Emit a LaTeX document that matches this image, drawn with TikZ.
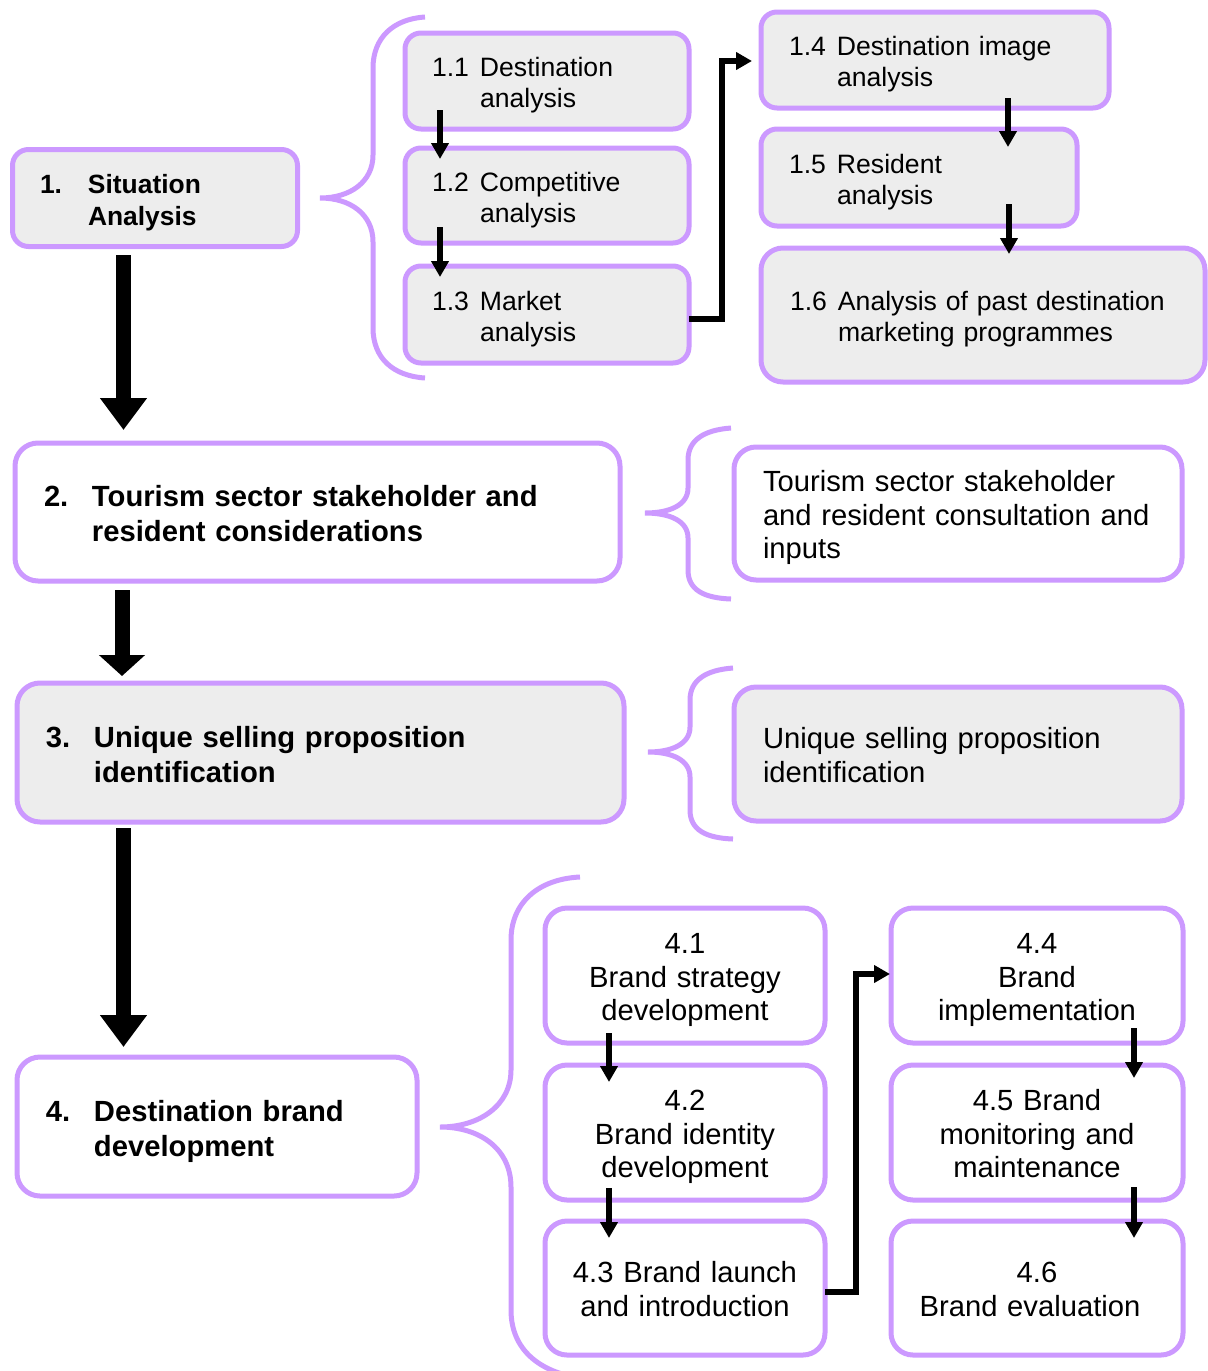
\documentclass[tikz,border=0pt]{standalone}
\usepackage{fontspec}
\setmainfont{Liberation Sans}
\usetikzlibrary{arrows.meta,calc}
\definecolor{lav}{RGB}{204,153,255}
\definecolor{boxgray}{RGB}{237,237,237}

% font sizes
\newcommand\fsSmall{\fontsize{13.3}{15.5}\selectfont}
\newcommand\fsLarge{\fontsize{14.6}{16.8}\selectfont}
\newcommand\fsHeadS{\fontsize{13.2}{16}\selectfont\bfseries}
\newcommand\fsHeadL{\fontsize{14.6}{17.5}\selectfont\bfseries}
% text blocks, lowered slightly so the lines sit optically centred
\newcommand\lowered[1]{\raisebox{-2.5pt}[\height][\depth]{#1}}
\newcommand\mkitem[3]{\lowered{\begin{tabular}{@{}p{24pt}@{}l@{}}#1 & #2\\ & #3\end{tabular}}}
\newcommand\txtL[1]{\lowered{\begin{tabular}{@{}l@{}}#1\end{tabular}}}
\newcommand\txtC[1]{\lowered{\begin{tabular}{@{}c@{}}#1\end{tabular}}}

\tikzset{
  bx/.style={rectangle, draw=lav, line width=2.5pt, outer sep=0pt, inner ysep=0pt, align=left},
  grayfill/.style={fill=boxgray},
  whitefill/.style={fill=white},
  bigarrow/.style={line width=7.5pt, -{Triangle[width=22.5pt,length=#1]}},
  smallarrow/.style={line width=2.75pt, -{Triangle[width=8.5pt,length=8pt]}},
  bracket/.style={draw=lav, line width=2.5pt},
}

\begin{document}
\begin{tikzpicture}[x=0.5pt,y=-0.5pt]
\fill[white] (0,0) rectangle (1208,1371);
\useasboundingbox (0,0) rectangle (1208,1371);

% ---- stage 1 ----
\node[bx, grayfill, minimum width=142.5pt, minimum height=48.5pt, inner xsep=13.75pt, text width=115pt, rounded corners=8pt, font=\fsHeadS] (n1) at (155,198) {\mkitem{1.}{Situation}{Analysis}};

\node[bx, grayfill, minimum width=142pt, minimum height=48pt, inner xsep=13.5pt, text width=115pt, rounded corners=8pt, font=\fsSmall] (n11) at (547,81) {\mkitem{1.1}{Destination}{analysis}};
\node[bx, grayfill, minimum width=142pt, minimum height=47.5pt, inner xsep=13.5pt, text width=115pt, rounded corners=8pt, font=\fsSmall] (n12) at (547,195.5) {\mkitem{1.2}{Competitive}{analysis}};
\node[bx, grayfill, minimum width=142pt, minimum height=48.5pt, inner xsep=13.5pt, text width=115pt, rounded corners=8pt, font=\fsSmall] (n13) at (547,314.5) {\mkitem{1.3}{Market}{analysis}};

\node[bx, grayfill, minimum width=174pt, minimum height=48pt, inner xsep=14pt, text width=146pt, rounded corners=8pt, font=\fsSmall] (n14) at (935,60) {\mkitem{1.4}{Destination image}{analysis}};
\node[bx, grayfill, minimum width=158pt, minimum height=48.5pt, inner xsep=14pt, text width=130pt, rounded corners=8pt, font=\fsSmall] (n15) at (919,177.5) {\mkitem{1.5}{Resident}{analysis}};
\node[bx, grayfill, minimum width=222pt, minimum height=67pt, inner xsep=14.5pt, text width=193pt, rounded corners=11pt, font=\fsSmall] (n16) at (983,315) {\mkitem{1.6}{Analysis of past destination}{marketing programmes}};

% ---- stage 2 ----
\node[bx, whitefill, minimum width=302.5pt, minimum height=69pt, inner xsep=14.5pt, text width=273.5pt, rounded corners=11.5pt, font=\fsHeadL] (n2) at (317.5,512) {\mkitem{2.}{Tourism sector stakeholder and}{resident considerations}};
\node[bx, whitefill, minimum width=224pt, minimum height=66.5pt, inner xsep=14.5pt, text width=195pt, rounded corners=11pt, font=\fsLarge] (n2b) at (958,513.5) {\txtL{Tourism sector stakeholder\\and resident consultation and\\inputs}};

% ---- stage 3 ----
\node[bx, grayfill, minimum width=303.5pt, minimum height=69.5pt, inner xsep=14.5pt, text width=274.5pt, rounded corners=11.5pt, font=\fsHeadL] (n3) at (320.5,752.5) {\mkitem{3.}{Unique selling proposition}{identification}};
\node[bx, grayfill, minimum width=224pt, minimum height=67pt, inner xsep=14.5pt, text width=195pt, rounded corners=11pt, font=\fsLarge] (n3b) at (958,754) {\txtL{Unique selling proposition\\identification}};

% ---- stage 4 ----
\node[bx, whitefill, minimum width=200pt, minimum height=69.5pt, inner xsep=14.5pt, text width=171pt, rounded corners=11.5pt, font=\fsHeadL] (n4) at (217,1126.5) {\mkitem{4.}{Destination brand}{development}};

\tikzset{subbox/.style={bx, whitefill, align=center, minimum height=67.5pt, inner xsep=4pt, rounded corners=11pt, font=\fsLarge}}
\node[subbox, minimum width=140pt, text width=132pt] (n41) at (685,975.5) {\txtC{4.1\\Brand strategy\\development}};
\node[subbox, minimum width=140pt, text width=132pt] (n42) at (685,1132.5) {\txtC{4.2\\Brand identity\\development}};
\node[subbox, minimum width=140pt, minimum height=67pt, text width=132pt] (n43) at (685,1288) {\txtC{4.3 Brand launch\\and introduction}};
\node[subbox, minimum width=146pt, text width=138pt] (n44) at (1037,975.5) {\txtC{4.4\\Brand\\implementation}};
\node[subbox, minimum width=146pt, text width=138pt] (n45) at (1037,1132.5) {\txtC{4.5 Brand\\monitoring and\\maintenance}};
\node[subbox, minimum width=146pt, minimum height=67pt, text width=138pt] (n46) at (1037,1288) {\txtC{4.6\\Brand evaluation\hspace*{7pt}}};

% ---- main flow ----
\draw[bigarrow=16pt] ($(n1.south west)+(111,8.5)$) -- ($(n2.north west)+(108.5,-13)$);
\draw[bigarrow=10.5pt] ($(n2.south west)+(107,9)$) -- ($(n3.north west)+(105,-7)$);
\draw[bigarrow=16pt] ($(n3.south west)+(106.5,6)$) -- ($(n4.north west)+(106.5,-10)$);

% ---- sub-step arrows ----
\draw[smallarrow] ($(n11.south west)+(35,-19)$) -- ($(n12.north west)+(35,11)$);
\draw[smallarrow] ($(n12.south west)+(35,-16)$) -- ($(n13.north west)+(35,11)$);
\draw[smallarrow] ($(n13.east)+(0,4.5)$) -- ++(33,0) |- ($(n14.west)+(-9,1)$);
\draw[smallarrow] ($(n14.south west)+(247,-10)$) -- ($(n15.north west)+(247,18)$);
\draw[smallarrow] ($(n15.south west)+(248,-22)$) -- ($(n16.north west)+(248,6)$);

\draw[smallarrow] ($(n41.south west)+(64,-10)$) -- ($(n42.north west)+(64,17)$);
\draw[smallarrow] ($(n42.south west)+(64,-12)$) -- ($(n43.north west)+(64,17)$);
\draw[smallarrow] ($(n43.east)+(0,4)$) -- ++(31,0) |- ($(n44.west)+(-1,-1.5)$);
\draw[smallarrow] ($(n44.south west)+(243,-15)$) -- ($(n45.north west)+(243,13)$);
\draw[smallarrow] ($(n45.south west)+(243,-13)$) -- ($(n46.north west)+(243,17)$);

% ---- curly brackets ----
\draw[bracket] (425,17) .. controls (393,19) and (373,38) .. (373,68) -- (373,155)
  .. controls (373,182) and (350,198) .. (320,198)
  .. controls (350,198) and (373,214) .. (373,242) -- (373,328)
  .. controls (373,358) and (393,376) .. (425,378);
\draw[bracket] (731,428) .. controls (704,430) and (688,440) .. (688,460) -- (688,488)
  .. controls (688,505) and (670,513) .. (645,513)
  .. controls (670,513) and (688,521) .. (688,538) -- (688,570)
  .. controls (688,590) and (704,598) .. (731,599);
\draw[bracket] (733,668) .. controls (706,670) and (690,680) .. (690,700) -- (690,727)
  .. controls (690,744) and (672,752) .. (648,752)
  .. controls (672,752) and (690,760) .. (690,777) -- (690,810)
  .. controls (690,830) and (706,838) .. (733,839);
\draw[bracket] (580,877) .. controls (538,879) and (511,903) .. (511,940) -- (511,1070)
  .. controls (511,1105) and (480,1127) .. (440,1127)
  .. controls (480,1127) and (511,1149) .. (511,1187) -- (511,1310)
  .. controls (511,1350) and (540,1372) .. (580,1378);
\end{tikzpicture}
\end{document}
